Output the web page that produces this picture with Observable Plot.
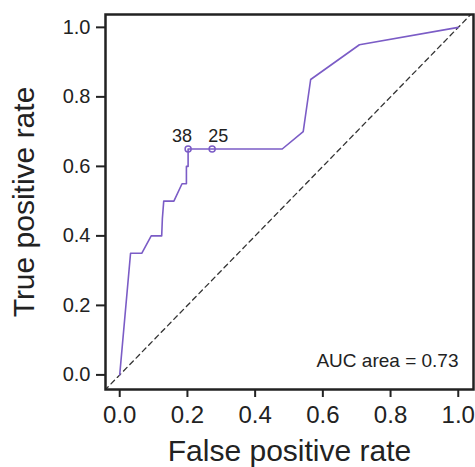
<!DOCTYPE html>
<html>
<head>
<meta charset="utf-8">
<script src="https://cdn.jsdelivr.net/npm/d3@7"></script>
<script src="https://cdn.jsdelivr.net/npm/@observablehq/plot@0.6"></script>
<style>
  html, body { margin: 0; padding: 0; background: #fff; }
  svg { display: block; }
</style>
</head>
<body>
<div id="chart"></div>
<script>
// ROC curve values
const fpr = [0, 0.032, 0.065, 0.093, 0.124, 0.126, 0.130, 0.160, 0.184, 0.197, 0.197, 0.202, 0.202, 0.273, 0.480, 0.542, 0.564, 0.708, 1.0];
const tpr = [0, 0.35, 0.35, 0.40, 0.40, 0.45, 0.50, 0.50, 0.55, 0.55, 0.60, 0.60, 0.65, 0.65, 0.65, 0.70, 0.85, 0.95, 1.0];

// marked thresholds
const markFpr = [0.202, 0.273];
const markTpr = [0.65, 0.65];
const markLabels = ["38", "25"];

const tickValues = [0, 0.2, 0.4, 0.6, 0.8, 1.0];
const xTitle = "False positive rate";
const yTitle = "True positive rate";
const aucText = "AUC area = 0.73";
const diag = [-0.1, 1.1];

const roc = fpr.map((x, i) => ({x, y: tpr[i]}));
const marks = markFpr.map((x, i) => ({x, y: markTpr[i], label: markLabels[i]}));

const purple = "#7b5cc6";
const font = "'Liberation Sans', Arial, Helvetica, sans-serif";

const plot = Plot.plot({
  width: 475,
  height: 467,
  marginLeft: 105,
  marginRight: 2,
  marginTop: 14,
  marginBottom: 78,
  style: {fontFamily: font, background: "#fff", color: "#222"},
  x: {domain: [-0.042, 1.045], ticks: tickValues, tickFormat: d3.format(".1f")},
  y: {domain: [-0.042, 1.037], ticks: tickValues, tickFormat: d3.format(".1f")},
  marks: [
    Plot.line(diag, {x: d => d, y: d => d, stroke: "#333", strokeWidth: 1.3, strokeDasharray: "5,4", clip: true}),
    Plot.line(roc, {x: "x", y: "y", stroke: purple, strokeWidth: 1.6}),
    Plot.dot(marks, {x: "x", y: "y", r: 3, stroke: purple, strokeWidth: 1.5, fill: "none"}),
    Plot.text(marks.filter((d, i) => i === 0), {x: "x", y: "y", text: "label", dx: -6, dy: -13, fontSize: 18, fill: "#222"}),
    Plot.text(marks.filter((d, i) => i === 1), {x: "x", y: "y", text: "label", dx: 6, dy: -13, fontSize: 18, fill: "#222"}),
    Plot.text([aucText], {frameAnchor: "bottom-right", dx: -15, dy: -23, lineAnchor: "bottom", textAnchor: "end", fontSize: 19, fill: "#222"}),
    Plot.axisX({ticks: tickValues, tickSize: 8, tickPadding: 8, fontSize: 24, label: null, stroke: "#222", strokeWidth: 2, color: "#222"}),
    Plot.axisY({ticks: tickValues, tickSize: 9, tickPadding: 6, fontSize: 20, label: null, stroke: "#222", strokeWidth: 2, color: "#222"}),
    Plot.text([xTitle], {frameAnchor: "bottom", dy: 71, lineAnchor: "bottom", textAnchor: "middle", fontSize: 30, fill: "#222"}),
    Plot.text([yTitle], {frameAnchor: "left", dx: -72, lineAnchor: "bottom", textAnchor: "middle", rotate: -90, fontSize: 30, fill: "#222"}),
    Plot.frame({stroke: "#222", strokeWidth: 2.5})
  ]
});
document.getElementById("chart").appendChild(plot);
</script>
</body>
</html>
